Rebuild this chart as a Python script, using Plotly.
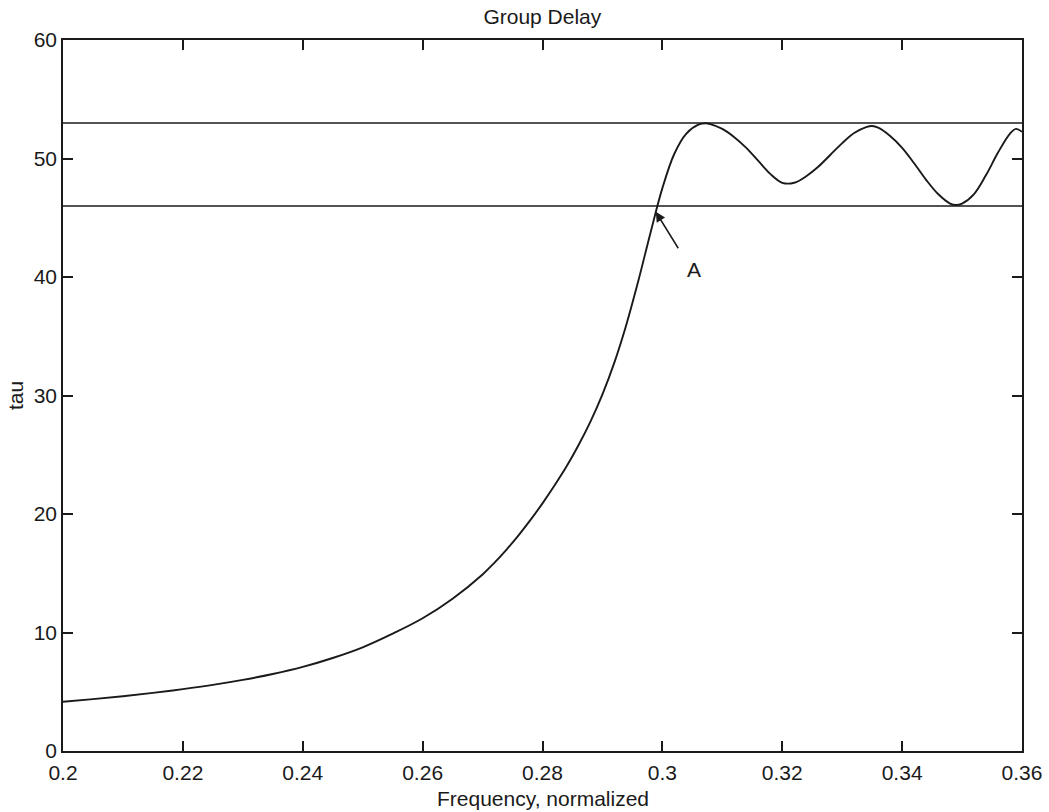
import plotly.graph_objects as go

# Group delay curve
freq = [0.200, 0.205, 0.210, 0.215, 0.220, 0.225, 0.230, 0.235, 0.240, 0.245,
        0.250, 0.255, 0.260, 0.265, 0.270, 0.272, 0.274, 0.276, 0.278, 0.280,
        0.282, 0.284, 0.286, 0.288, 0.290, 0.292, 0.294, 0.296, 0.298, 0.300,
        0.302, 0.304, 0.306, 0.3073, 0.308, 0.310,
        0.312, 0.314, 0.316, 0.318, 0.320, 0.322, 0.324, 0.326, 0.328, 0.330,
        0.332, 0.334, 0.335, 0.336, 0.338, 0.340, 0.342, 0.344, 0.346, 0.348,
        0.349, 0.350, 0.352, 0.354, 0.356, 0.358, 0.359, 0.360]
tau = [4.16, 4.38, 4.62, 4.9, 5.22, 5.58, 6.0, 6.5, 7.1, 7.85,
       8.75, 9.9, 11.2, 12.85, 14.9, 15.9, 17.0, 18.2, 19.5, 20.9,
       22.4, 24.0, 25.8, 27.8, 30.1, 32.8, 36.0, 39.7, 43.7, 47.5,
       50.4, 52.1, 52.85, 52.97, 52.9, 52.5,
       51.8, 50.9, 49.8, 48.7, 47.95, 47.95, 48.5, 49.3, 50.3, 51.3,
       52.15, 52.65, 52.74, 52.6, 51.9, 50.9, 49.6, 48.2, 47.0, 46.2,
       46.08, 46.2, 47.0, 48.6, 50.5, 52.1, 52.5, 52.25]

# Horizontal reference levels
upper_level = 53.0
lower_level = 46.0
x_range = [0.2, 0.36]

# Annotation "A"
a_head = (0.2989, 45.5)
a_tail = (0.3028, 42.3)
a_text = (0.3052, 40.6)

xticks = [0.2, 0.22, 0.24, 0.26, 0.28, 0.3, 0.32, 0.34, 0.36]
xtick_labels = ["0.2", "0.22", "0.24", "0.26", "0.28", "0.3", "0.32", "0.34", "0.36"]
yticks = [0, 10, 20, 30, 40, 50, 60]

ink = "#1a1a1a"
font = dict(family="Liberation Sans, Arial, sans-serif", size=21, color=ink)

fig = go.Figure()
fig.add_trace(go.Scatter(x=x_range, y=[upper_level, upper_level], mode="lines",
                         line=dict(color=ink, width=1.5), showlegend=False))
fig.add_trace(go.Scatter(x=x_range, y=[lower_level, lower_level], mode="lines",
                         line=dict(color=ink, width=1.5), showlegend=False))
fig.add_trace(go.Scatter(x=freq, y=tau, mode="lines",
                         line=dict(color=ink, width=1.9, shape="spline", smoothing=1.0),
                         showlegend=False))

fig.add_annotation(x=a_head[0], y=a_head[1], ax=a_tail[0], ay=a_tail[1],
                   xref="x", yref="y", axref="x", ayref="y", text="",
                   showarrow=True, arrowhead=2, arrowsize=1.3, arrowwidth=1.5,
                   arrowcolor=ink)
fig.add_annotation(x=a_text[0], y=a_text[1], xref="x", yref="y", text="A",
                   showarrow=False, font=font)
# x-axis title
fig.add_annotation(x=0.5, y=0, xref="paper", yref="paper", yshift=-47,
                   yanchor="middle", text="Frequency, normalized",
                   showarrow=False, font=font)

fig.update_layout(
    width=1049, height=812,
    margin=dict(l=63, r=27, t=40, b=61, autoexpand=False),
    paper_bgcolor="white", plot_bgcolor="white",
    font=font,
    title=dict(text="Group Delay", x=0.517, xanchor="center", y=0.979,
               yanchor="middle", yref="container", font=font),
)
fig.update_xaxes(range=x_range, tickvals=xticks, ticktext=xtick_labels,
                 ticks="inside", ticklen=10, tickwidth=1.5, tickcolor=ink,
                 showline=True, linewidth=1.5, linecolor=ink, mirror="ticks",
                 showgrid=False, zeroline=False, ticklabelstandoff=2,
                 automargin=False)
fig.update_yaxes(range=[0, 60], tickvals=yticks,
                 ticks="inside", ticklen=10, tickwidth=1.5, tickcolor=ink,
                 showline=True, linewidth=1.5, linecolor=ink, mirror="ticks",
                 showgrid=False, zeroline=False, automargin=False,
                 title=dict(text="tau", standoff=4, font=font))

fig.write_html("out.html")
